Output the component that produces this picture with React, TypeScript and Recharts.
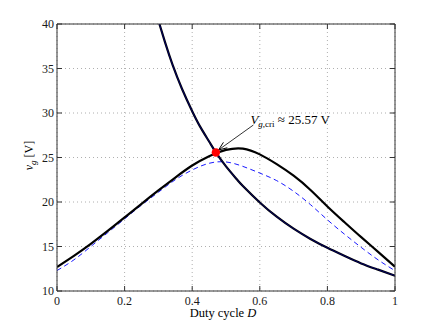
import React from 'react';
import { LineChart, Line, XAxis, YAxis, CartesianGrid, ReferenceDot, ReferenceLine } from 'recharts';

// Duty cycle sample points shared by the two bell-shaped curves
const dutyGrid = [0, 0.05, 0.1, 0.15, 0.2, 0.25, 0.3, 0.35, 0.4, 0.45, 0.5, 0.55, 0.6, 0.65, 0.7, 0.75, 0.8, 0.85, 0.9, 0.95, 1];
// Solid black bell curve
const upperCurve = [12.7, 13.95, 15.3, 16.75, 18.27, 19.8, 21.3, 22.75, 24.1, 25.15, 25.85, 26.0, 25.35, 24.25, 22.95, 21.35, 19.5, 17.75, 16.05, 14.4, 12.73];
// Blue dashed bell curve
const dashedCurve = [12.3, 13.5, 15.0, 16.55, 18.1, 19.65, 21.1, 22.5, 23.6, 24.35, 24.5, 24.0, 23.25, 22.4, 21.2, 19.7, 18.0, 16.4, 14.9, 13.5, 12.28];
// Falling boundary curve
const fallingDuty = [0.303, 0.32, 0.342, 0.37, 0.4, 0.423, 0.45, 0.47, 0.5, 0.532, 0.55, 0.6, 0.65, 0.7, 0.75, 0.8, 0.85, 0.9, 0.95, 1];
const fallingCurve = [40, 37.9, 35.4, 32.7, 30.2, 28.5, 26.8, 25.57, 24.0, 22.55, 21.8, 19.95, 18.35, 17.0, 15.85, 14.85, 13.95, 13.1, 12.4, 11.72];

const xTicks = [0, 0.2, 0.4, 0.6, 0.8, 1];
const yTicks = [10, 15, 20, 25, 30, 35, 40];

const criticalPoint = { d: 0.47, v: 25.57 };
const annotationTail = { d: 0.581, v: 28.65 };
const annotationHead = { d: 0.478, v: 25.85 };

const upperData = dutyGrid.map((d, i) => ({ d, v: upperCurve[i] }));
const dashedData = dutyGrid.map((d, i) => ({ d, v: dashedCurve[i] }));
const fallingData = fallingDuty.map((d, i) => ({ d, v: fallingCurve[i] }));

const FONT = "'Liberation Serif', 'DejaVu Serif', serif";
const tickStyle = { fontFamily: FONT, fontSize: 12, fill: '#1a1a1a' };
const empty = () => '';

const ArrowShape = (props: any) => {
  const { x1, y1, x2, y2 } = props;
  const ang = Math.atan2(y2 - y1, x2 - x1);
  const L = 9;
  const w = 0.38;
  const ax = x2 - L * Math.cos(ang - w);
  const ay = y2 - L * Math.sin(ang - w);
  const bx = x2 - L * Math.cos(ang + w);
  const by = y2 - L * Math.sin(ang + w);
  return (
    <g>
      <line x1={x1} y1={y1} x2={x2} y2={y2} stroke="#000" strokeWidth={0.8} />
      <polyline points={`${ax},${ay} ${x2},${y2} ${bx},${by}`} fill="none" stroke="#000" strokeWidth={1} />
      <text x={x1 - 3} y={y1 - 1} fontFamily={FONT} fontSize={13} fill="#000">
        <tspan fontStyle="italic">V</tspan>
        <tspan fontSize={9} dy={3}><tspan fontStyle="italic">g</tspan>,cri</tspan>
        <tspan dy={-3}> ≈ 25.57 V</tspan>
      </text>
    </g>
  );
};

const YLabel = (props: any) => {
  const vb = props.viewBox || { x: 0, y: 24, width: 57, height: 267 };
  const cx = vb.x + 33;
  const cy = vb.y + vb.height / 2 - 2;
  return (
    <text x={cx} y={cy} transform={`rotate(-90, ${cx}, ${cy})`} textAnchor="middle" fontFamily={FONT} fontSize={12} fill="#000">
      <tspan fontStyle="italic">v</tspan>
      <tspan fontStyle="italic" fontSize={9} dy={3}>g</tspan>
      <tspan dy={-3}> [V]</tspan>
    </text>
  );
};

const XLabel = (props: any) => {
  const vb = props.viewBox || { x: 57, y: 291, width: 338, height: 37 };
  const cx = vb.x + vb.width / 2 - 3;
  return (
    <text x={cx} y={vb.y + 26} textAnchor="middle" fontFamily={FONT} fontSize={12.5} fill="#000">
      Duty cycle <tspan fontStyle="italic">D</tspan>
    </text>
  );
};

export default function App() {
  return (
    <div style={{ position: 'absolute', left: 0, top: 0, background: '#fff' }}>
      <LineChart width={436} height={328} margin={{ top: 23, right: 40, bottom: 0, left: 0 }}>
        <CartesianGrid stroke="#9a9a9a" strokeDasharray="1 3" strokeWidth={0.8} horizontalValues={yTicks} verticalValues={xTicks} />
        <XAxis
          type="number"
          dataKey="d"
          domain={[0, 1]}
          ticks={xTicks}
          allowDataOverflow
          height={37}
          tickSize={-5}
          tickMargin={10}
          tick={tickStyle}
          axisLine={{ stroke: '#333', strokeWidth: 1 }}
          tickLine={{ stroke: '#333' }}
          label={(p: any) => <XLabel {...p} />}
        />
        <XAxis
          xAxisId="top"
          orientation="top"
          type="number"
          dataKey="d"
          domain={[0, 1]}
          ticks={xTicks}
          allowDataOverflow
          height={1}
          tickSize={-5}
          tickFormatter={empty}
          axisLine={{ stroke: '#333', strokeWidth: 1 }}
          tickLine={{ stroke: '#333' }}
        />
        <YAxis
          type="number"
          domain={[10, 40]}
          ticks={yTicks}
          allowDataOverflow
          width={57}
          tickSize={-5}
          tickMargin={8}
          tick={tickStyle}
          axisLine={{ stroke: '#333', strokeWidth: 1 }}
          tickLine={{ stroke: '#333' }}
          label={(p: any) => <YLabel {...p} />}
        />
        <YAxis
          yAxisId="right"
          orientation="right"
          type="number"
          domain={[10, 40]}
          ticks={yTicks}
          allowDataOverflow
          width={1}
          tickSize={-5}
          tickFormatter={empty}
          axisLine={{ stroke: '#333', strokeWidth: 1 }}
          tickLine={{ stroke: '#333' }}
        />
        <Line
          xAxisId="top"
          yAxisId="right"
          data={dashedData}
          dataKey="v"
          type="natural"
          stroke="#0000ff"
          strokeWidth={0.9}
          strokeDasharray="5 3.5"
          dot={false}
          isAnimationActive={false}
        />
        <Line data={upperData} dataKey="v" type="natural" stroke="#000" strokeWidth={2.2} dot={false} isAnimationActive={false} />
        <Line data={fallingData} dataKey="v" type="natural" stroke="#000" strokeWidth={2.2} dot={false} isAnimationActive={false} />
        <Line data={fallingData} dataKey="v" type="natural" stroke="#0000ff" strokeWidth={0.4} dot={false} isAnimationActive={false} />
        <ReferenceLine
          segment={[{ x: annotationTail.d, y: annotationTail.v }, { x: annotationHead.d, y: annotationHead.v }]}
          ifOverflow="visible"
          shape={ArrowShape}
        />
        <ReferenceDot x={criticalPoint.d} y={criticalPoint.v} r={4.2} fill="#ff0000" stroke="none" ifOverflow="visible" />
      </LineChart>
    </div>
  );
}
